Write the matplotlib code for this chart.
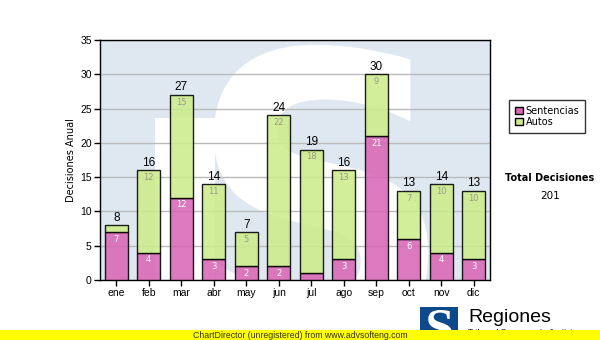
import matplotlib
matplotlib.use("Agg")
import matplotlib.pyplot as plt
import numpy as np
from matplotlib.textpath import TextPath
from matplotlib.font_manager import FontProperties
from matplotlib.patches import PathPatch, Rectangle
from matplotlib.transforms import Affine2D

meses = ["ene", "feb", "mar", "abr", "may", "jun", "jul", "ago", "sep", "oct", "nov", "dic"]
sentencias = [7, 4, 12, 3, 2, 2, 1, 3, 21, 6, 4, 3]
autos = [1, 12, 15, 11, 5, 22, 18, 13, 9, 7, 10, 10]
series = ["Sentencias", "Autos"]

rosa = "#d966b5"
verde = "#cdec8c"
celeste = "#dfe8f1"


def glyph(ch, box, color, transform, family="DejaVu Sans", zorder=0.5):
    # stretch a glyph outline to fill box = (x0, x1, y0, y1)
    tp = TextPath((0, 0), ch, size=1, prop=FontProperties(family=family, weight="bold"))
    ext = tp.get_extents()
    x0, x1, y0, y1 = box
    tr = Affine2D().translate(-ext.x0, -ext.y0).scale((x1 - x0) / ext.width, (y1 - y0) / ext.height).translate(x0, y0)
    return PathPatch(tr.transform_path(tp), facecolor=color, edgecolor="none", transform=transform, zorder=zorder)


fig = plt.figure(figsize=(6, 3.4), dpi=100)
ax = fig.add_axes([100 / 600, 1 - 280 / 340, 390 / 600, 240 / 340])
ax.set_facecolor(celeste)

# marca de agua
ax.add_patch(Rectangle((1.2, 0), 1.85, 23.6, facecolor="white", edgecolor="none", zorder=0.5))
s_big = glyph("S", (3.0, 9.6, -10, 34.3), "white", ax.transData)
ax.add_patch(s_big)
s_big.set_clip_path(ax.patch)

x = np.arange(len(meses))
total = [s + a for s, a in zip(sentencias, autos)]
ax.bar(x, sentencias, 0.7, color=rosa, alpha=0.88, edgecolor="black", linewidth=1, zorder=3, label=series[0])
ax.bar(x, autos, 0.7, bottom=sentencias, color=verde, alpha=0.88, edgecolor="black", linewidth=1, zorder=3, label=series[1])

for i in range(len(meses)):
    if sentencias[i] > 1:
        ax.text(x[i], sentencias[i] - 0.4, str(sentencias[i]), ha="center", va="top",
                fontsize=6, color="white", zorder=4)
    if autos[i] > 1:
        ax.text(x[i], total[i] - 0.4, str(autos[i]), ha="center", va="top",
                fontsize=6, color="#9a9a80", zorder=4)
    ax.text(x[i], total[i] + 0.2, str(total[i]), ha="center", va="bottom",
            fontsize=8.5, color="black", zorder=4, family="Liberation Sans")

ax.set_xlim(-0.5, 11.5)
ax.set_ylim(0, 35)
ax.set_yticks(range(0, 36, 5))
ax.set_xticks(x)
ax.set_xticklabels(meses)
ax.yaxis.grid(True, color="#bbbbbb", linewidth=1, zorder=1)
ax.set_axisbelow(True)
ax.tick_params(labelsize=7.5, length=4, width=1, color="black", pad=2)
for lab in ax.get_xticklabels() + ax.get_yticklabels():
    lab.set_family("Liberation Sans")
for sp in ax.spines.values():
    sp.set_linewidth(1)
ax.set_ylabel("Decisiones Anual", fontsize=7, labelpad=3)

leg = fig.legend(loc="upper left", bbox_to_anchor=(509 / 600, 1 - 100 / 340), fontsize=7,
                 frameon=True, fancybox=False, edgecolor="black", handlelength=0.8, handleheight=0.8,
                 handletextpad=0.3, borderpad=0.6, labelspacing=0.1, borderaxespad=0)
leg.get_frame().set_linewidth(1)
for h in leg.legend_handles:
    h.set_alpha(1)

fig.text(550 / 600, 1 - 178 / 340, "Total Decisiones", ha="center", va="center", fontsize=7, fontweight="bold")
fig.text(550 / 600, 1 - 196 / 340, str(sum(total)), ha="center", va="center", fontsize=7.5)

# logo y pie
fig.patches.append(Rectangle((420 / 600, 0), 38 / 600, 33 / 340, transform=fig.transFigure,
                             facecolor="#0d4a8c", edgecolor="none", zorder=2))
fig.patches.append(glyph("S", (428 / 600, 452 / 600, -4 / 340, 30 / 340), "white", fig.transFigure,
                         family="Liberation Serif", zorder=3))
fig.text(468 / 600, 1 - 322 / 340, "Regiones", fontsize=14, family="Liberation Sans", va="baseline")
fig.text(468 / 600, 1 - 333.5 / 340, "Tribunal Supremo de Justicia", fontsize=6, family="Liberation Sans", va="baseline")
fig.patches.append(Rectangle((0, 0), 1, 10 / 340, transform=fig.transFigure,
                             facecolor="#ffff00", edgecolor="none", zorder=5))
fig.text(0.5, 5 / 340, "ChartDirector (unregistered) from www.advsofteng.com", ha="center", va="center",
         fontsize=6.3, family="Liberation Sans", color="#333300", zorder=6)

fig.savefig("out.png", dpi=100)
